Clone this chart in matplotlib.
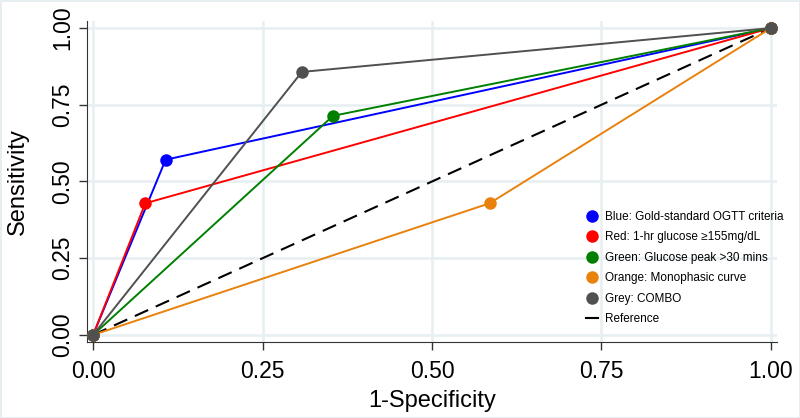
import matplotlib
matplotlib.use("Agg")
import matplotlib.pyplot as plt
from matplotlib.lines import Line2D

plt.rcParams['font.family'] = ['Liberation Sans', 'DejaVu Sans']

# ROC points (1-specificity, sensitivity) for each criterion
blue_x = [0.0, 0.107, 1.0]
blue_y = [0.0, 0.571, 1.0]
red_x = [0.0, 0.077, 1.0]
red_y = [0.0, 0.429, 1.0]
green_x = [0.0, 0.354, 1.0]
green_y = [0.0, 0.714, 1.0]
orange_x = [0.0, 0.585, 1.0]
orange_y = [0.0, 0.429, 1.0]
grey_x = [0.0, 0.308, 1.0]
grey_y = [0.0, 0.857, 1.0]
ref_x = [0.0, 1.0]
ref_y = [0.0, 1.0]

labels = ['Blue: Gold-standard OGTT criteria',
          'Red: 1-hr glucose \u2265155mg/dL',
          'Green: Glucose peak >30 mins',
          'Orange: Monophasic curve',
          'Grey: COMBO',
          'Reference']
ticks = [0.0, 0.25, 0.5, 0.75, 1.0]
tick_labels = ['0.00', '0.25', '0.50', '0.75', '1.00']

c_blue = '#0000ff'
c_red = '#ff0000'
c_green = '#008000'
c_orange = '#e8820c'
c_grey = '#505050'

fig = plt.figure(figsize=(8, 4.18), dpi=100)
fig.patch.set_edgecolor('#e6eef0')
fig.patch.set_linewidth(2)
ax = fig.add_axes([0.10875, 0.1818, 0.8625, 0.768])

ax.plot(ref_x, ref_y, color='black', lw=1.5, linestyle=(0, (7, 4)), zorder=2)
series = [(blue_x, blue_y, c_blue), (red_x, red_y, c_red),
          (green_x, green_y, c_green), (orange_x, orange_y, c_orange),
          (grey_x, grey_y, c_grey)]
for xs, ys, col in series:
    ax.plot(xs, ys, color=col, lw=1.4, marker='o', markersize=9,
            markeredgewidth=0, zorder=3)

ax.set_xlim(-0.009, 1.009)
ax.set_ylim(-0.023, 1.023)
ax.set_xticks(ticks)
ax.set_xticklabels(tick_labels)
ax.set_yticks(ticks)
ax.set_yticklabels(tick_labels, rotation=90, va='center')
ax.tick_params(labelsize=16.5, length=6, width=1, color='#333333', pad=3)
ax.tick_params(axis='x', pad=7)
ax.grid(True, color='#e6eff1', lw=1.8, zorder=0)
ax.set_axisbelow(True)
for side in ['top', 'right']:
    ax.spines[side].set_visible(False)
for side in ['left', 'bottom']:
    ax.spines[side].set_color('#333333')
ax.set_xlabel('1-Specificity', fontsize=17, labelpad=5)
ax.set_ylabel('Sensitivity', fontsize=17, labelpad=16)

handles = [Line2D([], [], color=c, marker='o', linestyle='none', markersize=9,
                  markeredgewidth=0)
           for c in [c_blue, c_red, c_green, c_orange, c_grey]]
handles.append(Line2D([], [], color='black', lw=1.5))
ax.legend(handles, labels, loc='upper left', bbox_to_anchor=(0.716, 0.423),
          frameon=False, fontsize=8.5, handlelength=1.0, handletextpad=0.6,
          labelspacing=0.72, borderaxespad=0)

fig.savefig('out.png', dpi=100)
